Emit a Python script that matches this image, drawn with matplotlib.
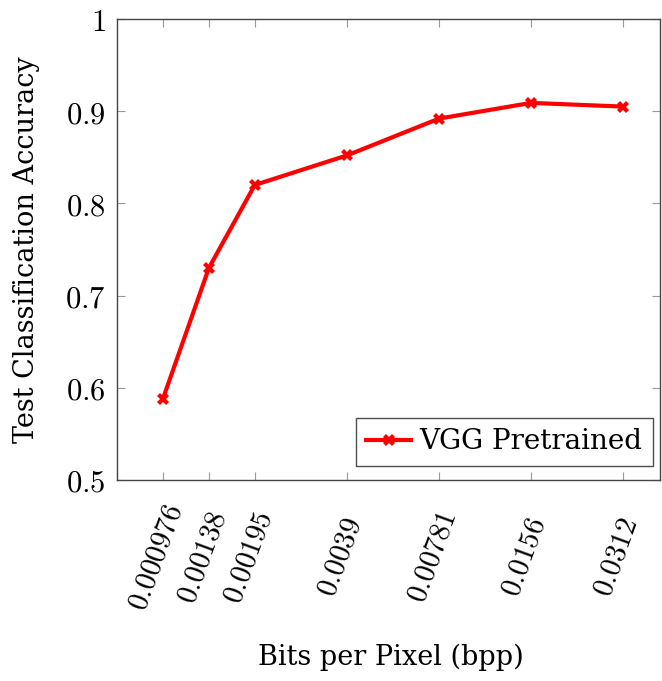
import matplotlib
matplotlib.use('Agg')
import matplotlib.pyplot as plt
import matplotlib.transforms as mtransforms
from matplotlib.ticker import FixedLocator, FixedFormatter, NullLocator

bpp = [0.000976, 0.00138, 0.00195, 0.0039, 0.00781, 0.0156, 0.0312]
bpp_labels = ['0.000976', '0.00138', '0.00195', '0.0039', '0.00781', '0.0156', '0.0312']
accuracy = [0.588, 0.730, 0.820, 0.852, 0.892, 0.909, 0.905]
y_ticks = [0.5, 0.6, 0.7, 0.8, 0.9, 1.0]
y_labels = ['0.5', '0.6', '0.7', '0.8', '0.9', '1']

plt.rcParams['mathtext.fontset'] = 'cm'
plt.rcParams['font.family'] = 'DejaVu Serif'

fig = plt.figure(figsize=(6.62, 6.81), dpi=100)
ax = fig.add_axes([0.1767, 0.2952, 0.8203, 0.6769])

ax.plot(bpp, accuracy, color='#ff0000', linewidth=3, marker='X', markersize=8,
        markeredgewidth=0, label='VGG Pretrained')

ax.set_xscale('log', base=2)
ax.set_xlim(2 ** -10.5, 2 ** -4.6)
ax.set_ylim(0.5, 1.0)

ax.xaxis.set_major_locator(FixedLocator(bpp))
ax.xaxis.set_major_formatter(FixedFormatter(['$' + s + '$' for s in bpp_labels]))
ax.xaxis.set_minor_locator(NullLocator())
ax.set_yticks(y_ticks)
ax.set_yticklabels(['$' + s + '$' for s in y_labels])

ax.tick_params(axis='both', which='major', direction='in', length=6, width=0.8,
               color='#999999', top=True, right=True)
ax.tick_params(axis='y', labelsize=22, pad=8)
ax.tick_params(axis='x', labelsize=21, pad=55.5)

# rotated x labels, centred on a point slightly left of / below each tick (pgfplots style)
offset = mtransforms.ScaledTranslation(-6.5 / 100, 0, fig.dpi_scale_trans)
for lbl in ax.get_xticklabels():
    lbl.set_rotation(70)
    lbl.set_rotation_mode('anchor')
    lbl.set_ha('center')
    lbl.set_va('center')
    lbl.set_transform(lbl.get_transform() + offset)

for s in ax.spines.values():
    s.set_color('#444444')
    s.set_linewidth(1.0)

ax.set_xlabel('Bits per Pixel (bpp)', fontsize=19.5, va='top')
ax.xaxis.set_label_coords(0.505, -0.354)
ax.set_ylabel('Test Classification Accuracy', fontsize=19.5, labelpad=18)

leg = ax.legend(loc='lower right', bbox_to_anchor=(0.987, 0.0304), fontsize=20,
                frameon=True, fancybox=False, edgecolor='#222222',
                handlelength=1.62, handletextpad=0.3, borderpad=0.38,
                borderaxespad=0)
leg.get_frame().set_linewidth(1.0)

fig.savefig('out.png', dpi=100)
